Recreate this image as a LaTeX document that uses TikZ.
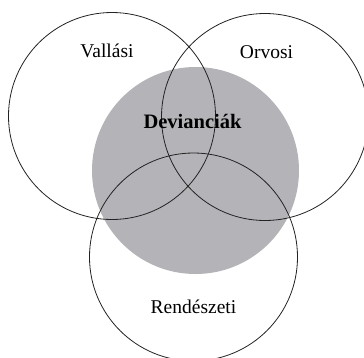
\documentclass[tikz,border=0pt]{standalone}
\usepackage{fontspec}
\setmainfont{Liberation Serif}
\definecolor{devgray}{RGB}{180,180,184}
\definecolor{ringline}{RGB}{35,35,35}
\begin{document}
\begin{tikzpicture}[x=1pt,y=-1pt,
  ring/.style={draw=ringline,line width=0.8pt},
  core/.style={fill=devgray},
  label/.style={font=\fontsize{19.5}{22}\selectfont,anchor=base},
  corelabel/.style={font=\fontsize{20.5}{23}\selectfont\bfseries,anchor=base}]
  \useasboundingbox (0,0) rectangle (364,357);
  \clip (0,0) rectangle (364,357);
  % centres of the three fields and of the shared core
  \coordinate (vc) at (112,116);
  \coordinate (oc) at (265,117);
  \coordinate (rc) at (193.5,257);
  \coordinate (dc) at (195.5,170.5);
  % shaded core
  \fill[core] (dc) circle (103.5);
  % the three overlapping fields
  \draw[ring] (vc) circle (103.5);
  \draw[ring] (oc) circle (103.5);
  \draw[ring] (rc) circle (104);
  % labels
  \node[label] (vallasi) at (107,57) {Vallási};
  \node[label] (orvosi) at (266.5,58) {Orvosi};
  \node[label] (rendeszeti) at (193.5,313) {Rendészeti};
  \node[corelabel] (deviancia) at (192.5,128) {Devianciák};
\end{tikzpicture}
\end{document}
